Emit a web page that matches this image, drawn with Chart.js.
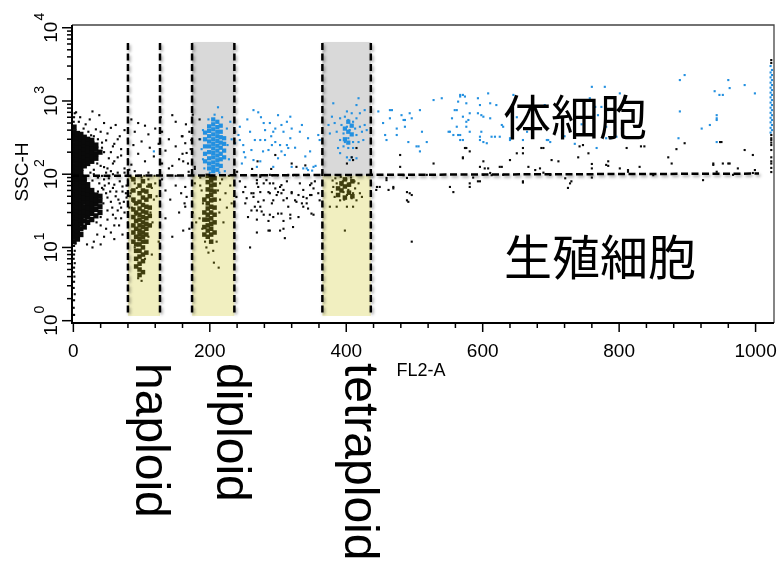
<!DOCTYPE html>
<html>
<head>
<meta charset="utf-8">
<title>FL2-A / SSC-H</title>
<script src="https://cdn.jsdelivr.net/npm/chart.js@4.4.1/dist/chart.umd.min.js"></script>
<style>
  body { margin: 0; background: #fff; }
  canvas { display: block; }
</style>
</head>
<body>
<canvas id="flow" width="780" height="570"></canvas>
<script>
// axis ticks
const xTickValues = [0, 200, 400, 600, 800, 1000];
const xMinorStep = 40;
const yExponents = [0, 1, 2, 3, 4];

// gates (FL2-A channel limits) and SSC-H levels
const gateNames = ['haploid', 'diploid', 'tetraploid'];
const gateFrom = [80, 174, 365];
const gateTo = [127, 236, 436];
const gateUpperShade = [false, true, true];
const gateTop = 6200;
const gateBottom = 1.27;
const shadeTop = 6400;
const shadeBottom = 1.16;
const splitLevel = 96;
const splitLine = [[-2, 95], [1005, 102]];

// dense cores: [FL2-A, [SSC-H values]]
const coreDebris = [
  [1, [12, 14, 16, 18, 20, 23, 26, 30, 34, 38, 43, 48, 55, 62, 70, 80, 90, 100, 115, 130, 150, 170, 195, 220, 250, 290, 330, 380, 440]],
  [6, [13, 15, 17, 19, 22, 25, 28, 32, 36, 41, 46, 52, 58, 66, 75, 85, 95, 108, 122, 140, 160, 185, 210, 240, 270, 310, 360]],
  [11, [15, 18, 21, 24, 27, 31, 35, 40, 45, 50, 57, 64, 72, 82, 92, 105, 120, 138, 158, 180, 205, 235, 265, 300, 350]],
  [16, [19, 23, 27, 31, 36, 42, 48, 55, 63, 70, 78, 88, 130, 150, 170, 195, 220, 250, 280, 320]],
  [21, [22, 26, 30, 35, 41, 47, 54, 62, 72, 140, 160, 185, 210, 240, 270, 300]],
  [27, [24, 29, 34, 40, 46, 53, 60, 150, 175, 200, 230, 260, 290]],
  [33, [27, 33, 39, 45, 52, 165, 190, 220, 250]],
  [39, [30, 36, 43, 50, 200]]
];

const coreBlack = [
  [88, [12, 16, 20, 26, 33, 45, 60, 85]],
  [92, [5.5, 7, 9, 11, 14, 18, 23, 30, 40]],
  [97, [4.2, 5, 6, 7.5, 9, 11, 13, 15, 17, 20, 24, 28, 34, 42, 55, 70]],
  [102, [4.6, 6.5, 8, 10, 12, 14, 16, 19, 22, 26, 31, 38, 48, 60, 80]],
  [107, [8.5, 12, 15, 18, 21, 25, 30, 36, 45, 58]],
  [112, [20, 27, 35, 50, 70]],
  [192, [15, 19, 24, 30, 45]],
  [197, [14, 17, 20, 24, 28, 34, 40, 50, 62, 78, 95]],
  [202, [12, 15, 18, 21, 25, 30, 36, 44, 52, 60, 70, 82, 92]],
  [207, [16, 22, 28, 35, 45, 58, 72, 88]],
  [388, [52, 64]], [393, [60, 75]], [398, [48, 68, 85]], [404, [56, 72]], [409, [50, 80]]
];

const coreBlue = [
  [193, [150, 190, 240, 300, 370]],
  [199, [120, 140, 165, 200, 240, 280, 330, 390, 450]],
  [205, [110, 125, 145, 170, 195, 225, 260, 300, 350, 410, 480, 560]],
  [211, [115, 135, 155, 180, 210, 245, 285, 330, 380, 440, 520]],
  [216, [130, 160, 190, 230, 270, 320, 380, 460]],
  [221, [170, 210, 260, 310]],
  [398, [300, 420]], [403, [270, 380, 520]], [408, [350, 460]]
];

// scattered events [FL2-A, SSC-H]
const blackPts = [
  [1, 1.2], [0.5, 1.5], [1, 1.9], [2, 2.3], [0.5, 2.8], [1, 3.4], [1.5, 4], [0.5, 4.6], [1, 5.3], [2, 6.1], [0.5, 7], [1, 8], [2, 9], [1, 10.5], [3, 11.3], [0.5, 520], [1, 600], [2, 680],
  [4, 700], [10, 600], [24, 560], [28, 720], [38, 640], [45, 500], [55, 430], [18, 480], [33, 410], [50, 360], [62, 470], [68, 330], [75, 400], [85, 560], [95, 500], [105, 460], [90, 380], [110, 350], [120, 420], [130, 380], [140, 300], [150, 520], [165, 480], [170, 380], [160, 330], [128, 600], [145, 640], [175, 650], [185, 560], [100, 280], [80, 300], [60, 260], [70, 220], [88, 250], [112, 230], [125, 260], [135, 210], [150, 240], [160, 190], [172, 220], [48, 290], [42, 230], [55, 200], [65, 170], [80, 160], [95, 190], [105, 150], [118, 175], [130, 140], [145, 130], [155, 160], [168, 140], [178, 118], [185, 300], [40, 130], [50, 120], [58, 140], [75, 120], [90, 110], [110, 105], [65, 105], [85, 135], [159, 330], [164, 265], [173, 293], [166, 195], [161, 150], [169, 108], [178, 126],
  [45, 85], [52, 75], [58, 65], [48, 55], [62, 50], [55, 42], [68, 40], [72, 58], [78, 48], [65, 32], [58, 28], [50, 24], [70, 25], [75, 30], [40, 20], [48, 18], [60, 20], [35, 15], [30, 12], [45, 14], [80, 22], [82, 35], [85, 60], [88, 42], [78, 70], [68, 80], [92, 28], [60, 13], [20, 11], [28, 10], [40, 11], [72, 15], [55, 16], [42, 95], [55, 110], [30, 100], [48, 105],
  [44, 62], [50, 48], [57, 35], [63, 58], [66, 45], [70, 35], [74, 42], [77, 55], [83, 50], [60, 72], [52, 88], [38, 75], [42, 65], [36, 58], [44, 40], [50, 32], [40, 26], [34, 22], [62, 25], [67, 20], [54, 58], [46, 70], [72, 68], [80, 85], [66, 95], [58, 100], [75, 105], [82, 115], [45, 125], [35, 140], [60, 150], [70, 180], [52, 165], [45, 200], [58, 240], [65, 300], [30, 330], [40, 380], [8, 520], [15, 420], [22, 380], [26, 340], [36, 300], [42, 270], [30, 115], [25, 105], [36, 90], [28, 82],
  [85, 90], [90, 75], [95, 95], [100, 90], [110, 85], [115, 65], [118, 45], [84, 55], [86, 35], [113, 30], [116, 22], [87, 20], [110, 14], [90, 10], [105, 7], [95, 3.8], [100, 3.5], [120, 75], [122, 50], [119, 95], [115, 8], [93, 65], [104, 95], [108, 68],
  [130, 85], [135, 60], [142, 45], [150, 70], [158, 55], [163, 40], [175, 30], [180, 22], [170, 18], [135, 25], [145, 14], [155, 30], [164, 67], [164, 36], [166, 49], [161, 17], [178, 75], [150, 95], [140, 120], [125, 12],
  [186, 90], [188, 60], [190, 40], [185, 25], [189, 18], [193, 12], [212, 60], [215, 45], [214, 30], [218, 85], [220, 22], [210, 12], [205, 9], [198, 8.5], [215, 75], [186, 70], [223, 55], [225, 35], [206, 6.2], [213, 5.3], [195, 10], [228, 95], [230, 70], [232, 40],
  [249, 57], [252, 40], [264, 49], [266, 36], [271, 67], [274, 57], [279, 75], [283, 83], [288, 55], [293, 44], [296, 64], [300, 57], [303, 67], [305, 55], [308, 61], [313, 47], [315, 36], [320, 57], [325, 44], [330, 52], [335, 40], [337, 61], [342, 47], [347, 52], [349, 75], [352, 64], [359, 55], [361, 44], [318, 28], [300, 29], [308, 23], [293, 26], [286, 23], [279, 28], [274, 36], [261, 32], [256, 26], [303, 17], [288, 17], [269, 16], [352, 28], [332, 75], [322, 97], [313, 80], [337, 36], [279, 44], [269, 83], [244, 80], [239, 49], [274, 92], [291, 97], [344, 34], [330, 26],
  [264, 97], [274, 97], [288, 98], [300, 97], [315, 98], [327, 97], [344, 98], [269, 75], [293, 75], [305, 71], [347, 71], [354, 80], [264, 55], [286, 57], [298, 52], [320, 55], [337, 49], [349, 52], [271, 42], [291, 40], [308, 44], [327, 42], [342, 40], [276, 31], [288, 28], [305, 29], [318, 25], [349, 29], [269, 24], [286, 17], [308, 18], [322, 19], [310, 13.4], [259, 10], [252, 67], [254, 47], [261, 55], [269, 32], [288, 75],
  [296, 183], [327, 126], [262, 118], [240, 108], [320, 140], [340, 132], [290, 118], [270, 150],
  [381, 67], [386, 75], [388, 64], [393, 71], [396, 57], [398, 67], [401, 52], [403, 61], [405, 75], [408, 47], [410, 55], [413, 64], [415, 44], [420, 55], [423, 49], [383, 49], [379, 57], [391, 44], [401, 36], [386, 36], [376, 36], [410, 36], [418, 75], [398, 17], [384, 88], [392, 92], [400, 85], [407, 90], [395, 80], [388, 52], [404, 70], [412, 80], [397, 45], [380, 82],
  [415, 228], [408, 170], [410, 156], [401, 140],
  [479, 183], [528, 140], [479, 126], [518, 98], [459, 89], [489, 89], [469, 67], [462, 61], [489, 57], [496, 52], [491, 42], [552, 67], [449, 67], [444, 61], [445, 67], [459, 83], [469, 64], [484, 97], [489, 44], [493, 55], [496, 12], [581, 67], [576, 228], [581, 205], [571, 170], [596, 126], [603, 120], [601, 98], [581, 75], [596, 80], [611, 104], [625, 126], [630, 98], [574, 228], [571, 165], [601, 150], [608, 120], [628, 126], [557, 57], [593, 80], [586, 90], [613, 97],
  [640, 156], [650, 193], [659, 193], [667, 126], [677, 114], [684, 120], [689, 228], [701, 156], [711, 150], [747, 250], [755, 193], [740, 170], [760, 138], [784, 150], [784, 130], [801, 120], [811, 228], [813, 114], [830, 126], [837, 240], [872, 170], [877, 140], [884, 220], [896, 265], [923, 83], [938, 140], [943, 108], [952, 140], [960, 140], [967, 98], [974, 120], [984, 214], [996, 183], [999, 114], [950, 275], [659, 80], [725, 65], [730, 80], [760, 90], [850, 97], [728, 75], [659, 77], [689, 105], [699, 98], [721, 88], [760, 120], [781, 134], [813, 108], [938, 134], [962, 140], [996, 104], [659, 228], [686, 228], [742, 240], [832, 240], [948, 275],
  [1023, 3620], [1023, 3300], [1023, 343], [1023, 310], [1023, 293], [1023, 270], [1023, 250], [1023, 214], [1023, 170], [1023, 150], [1023, 140], [1023, 122], [1023, 107]
];

const bluePts = [
  [188, 220], [186, 300], [190, 400], [192, 120], [198, 560], [207, 650], [212, 820], [218, 600], [225, 420], [226, 250], [228, 160], [222, 110], [232, 300], [230, 520], [200, 105], [214, 105], [190, 160], [118, 205],
  [264, 750], [271, 700], [244, 445], [242, 343], [259, 380], [279, 500], [281, 400], [288, 500], [296, 420], [293, 380], [305, 470], [313, 520], [318, 610], [320, 420], [308, 380], [332, 380], [344, 310], [318, 310], [274, 293], [281, 293], [266, 293], [244, 293], [249, 250], [261, 214], [286, 214], [291, 250], [296, 275], [303, 250], [313, 250], [305, 205], [300, 165], [310, 183], [315, 228], [278, 205], [274, 150], [264, 156], [252, 170], [247, 140], [269, 126], [293, 126], [320, 126], [347, 205], [337, 120], [344, 114], [352, 126], [359, 343], [361, 293], [237, 380], [237, 265], [255, 560], [300, 640], [275, 600], [335, 470], [290, 330], [325, 230], [250, 200], [340, 175], [342, 120], [350, 112], [355, 130],
  [381, 930], [418, 1090], [415, 880], [401, 720], [398, 610], [408, 680], [391, 580], [403, 550], [410, 520], [415, 580], [383, 500], [393, 470], [401, 445], [405, 400], [413, 420], [420, 445], [427, 470], [386, 380], [396, 360], [408, 343], [415, 343], [423, 380], [376, 360], [391, 293], [398, 275], [403, 310], [410, 275], [418, 275], [425, 293], [388, 228], [396, 240], [403, 228], [410, 228], [391, 194], [401, 170], [408, 170], [415, 165], [405, 156], [430, 400], [374, 470], [379, 610], [420, 680], [427, 750],
  [447, 720], [464, 580], [467, 750], [481, 640], [493, 680], [484, 550], [508, 750], [528, 1030], [540, 1090], [562, 750], [555, 580], [454, 500], [474, 420], [486, 445], [457, 343], [459, 293], [474, 343], [491, 275], [506, 240], [518, 275], [508, 205], [552, 380], [564, 343], [567, 1150], [574, 1150], [579, 550], [593, 1090], [596, 880], [593, 680], [601, 610], [598, 380], [596, 325], [608, 1270], [611, 580], [618, 325], [606, 265], [571, 293], [567, 343], [562, 445], [567, 1210], [571, 1210], [564, 980], [559, 750], [576, 930], [581, 680], [598, 640], [611, 930], [620, 880], [571, 610], [576, 520], [576, 445], [581, 380], [550, 380], [557, 343], [567, 293], [596, 293], [601, 275], [613, 325], [625, 325], [628, 470], [640, 293], [464, 750], [486, 550], [496, 580], [503, 240], [511, 380],
  [645, 1210], [630, 445], [659, 293], [640, 310], [691, 880], [694, 293], [699, 275], [696, 293], [760, 1560], [779, 1560], [801, 1270], [757, 1090], [774, 830], [784, 750], [765, 830], [769, 640], [781, 310], [767, 228], [796, 325], [787, 310], [804, 420], [781, 445], [887, 310], [889, 720], [889, 1930], [896, 2260], [921, 420], [933, 470], [943, 640], [943, 550], [943, 275], [940, 1360], [947, 1210], [952, 1210], [960, 1930], [962, 1500], [984, 1650], [999, 1270], [943, 580], [650, 600], [665, 380], [720, 330], [735, 260], [745, 480],
  [1022, 3000], [1024, 2650], [1022, 2450], [1024, 2260], [1022, 2100], [1024, 1930], [1022, 1780], [1024, 1650], [1022, 1520], [1024, 1410], [1022, 1300], [1024, 1210], [1022, 1120], [1024, 1030], [1022, 950], [1024, 880], [1022, 810], [1024, 750], [1022, 690], [1024, 640], [1022, 590], [1024, 550], [1022, 510], [1024, 470], [1022, 430], [1024, 400], [1022, 370]
];

const toPoints = list => list.map(([x, y]) => ({ x, y }));
const fromColumns = cols => cols.flatMap(([x, ys]) => ys.map(y => ({ x, y })));

const px = (chart, v) => chart.scales.x.getPixelForValue(v);
const py = (chart, v) => chart.scales.y.getPixelForValue(v);

const sansFont = '"Liberation Sans", Arial, Helvetica, sans-serif';

const gatesPlugin = {
  id: 'gates',
  beforeDatasetsDraw(chart) {
    const ctx = chart.ctx;
    ctx.save();
    ctx.fillStyle = '#d9d9d9';
    gateFrom.forEach((lo, i) => {
      if (!gateUpperShade[i]) return;
      const x0 = px(chart, lo), x1 = px(chart, gateTo[i]);
      const y0 = py(chart, shadeTop), y1 = py(chart, splitLevel);
      ctx.fillRect(x0, y0, x1 - x0, y1 - y0);
    });
    ctx.restore();
  },
  afterDatasetsDraw(chart) {
    const ctx = chart.ctx;
    ctx.save();
    // yellow gates lie over the events, so they tint them olive
    ctx.fillStyle = 'rgba(204, 198, 30, 0.28)';
    gateFrom.forEach((lo, i) => {
      const x0 = px(chart, lo), x1 = px(chart, gateTo[i]);
      const y0 = py(chart, splitLevel), y1 = py(chart, shadeBottom);
      ctx.fillRect(x0, y0, x1 - x0, y1 - y0);
    });

    ctx.strokeStyle = '#000';
    ctx.lineWidth = 2.5;
    ctx.setLineDash([7, 3.5]);
    ctx.shadowColor = 'rgba(0, 0, 0, 0.35)';
    ctx.shadowBlur = 3;
    ctx.shadowOffsetX = 1.5;
    ctx.shadowOffsetY = 2;
    gateFrom.forEach((lo, i) => {
      [lo, gateTo[i]].forEach(v => {
        const x = px(chart, v);
        ctx.beginPath();
        ctx.moveTo(x, py(chart, gateTop));
        ctx.lineTo(x, py(chart, gateBottom));
        ctx.stroke();
      });
    });
    ctx.beginPath();
    ctx.moveTo(px(chart, splitLine[0][0]), py(chart, splitLine[0][1]));
    ctx.lineTo(px(chart, splitLine[1][0]), py(chart, splitLine[1][1]));
    ctx.stroke();
    ctx.restore();
  },
  afterDraw(chart) {
    const ctx = chart.ctx;
    const { left, right, top, bottom } = chart.chartArea;
    ctx.save();

    // frame
    ctx.strokeStyle = '#444';
    ctx.lineWidth = 1.3;
    ctx.beginPath();
    ctx.moveTo(left, top);
    ctx.lineTo(right, top);
    ctx.lineTo(right, bottom);
    ctx.stroke();
    ctx.strokeStyle = '#000';
    ctx.lineWidth = 2;
    ctx.beginPath();
    ctx.moveTo(left, top);
    ctx.lineTo(left, bottom);
    ctx.lineTo(right, bottom);
    ctx.stroke();

    // x ticks
    ctx.lineWidth = 1.5;
    for (let v = 0; v <= 1000; v += xMinorStep) {
      const x = px(chart, v);
      const len = xTickValues.includes(v) ? 9 : 5;
      ctx.beginPath();
      ctx.moveTo(x, bottom);
      ctx.lineTo(x, bottom + len);
      ctx.stroke();
    }
    // y ticks, log decades
    yExponents.forEach(e => {
      const base = Math.pow(10, e);
      let y = py(chart, base);
      ctx.beginPath();
      ctx.moveTo(left, y);
      ctx.lineTo(left - 10, y);
      ctx.stroke();
      if (e < 4) {
        for (let m = 2; m <= 9; m++) {
          y = py(chart, m * base);
          ctx.beginPath();
          ctx.moveTo(left, y);
          ctx.lineTo(left - 5, y);
          ctx.stroke();
        }
      }
    });

    ctx.fillStyle = '#000';
    // x tick labels
    ctx.font = '19px ' + sansFont;
    ctx.textAlign = 'center';
    ctx.textBaseline = 'alphabetic';
    xTickValues.forEach(v => ctx.fillText(String(v), px(chart, v), 357));

    // y tick labels 10^n, rotated
    yExponents.forEach(e => {
      const y = py(chart, Math.pow(10, e));
      ctx.save();
      ctx.translate(57, y);
      ctx.rotate(-Math.PI / 2);
      ctx.textAlign = 'left';
      ctx.font = '19px ' + sansFont;
      const w10 = ctx.measureText('10').width;
      ctx.font = '14px ' + sansFont;
      const wSup = ctx.measureText(String(e)).width;
      const start = -(w10 + 1 + wSup) / 2;
      ctx.font = '19px ' + sansFont;
      ctx.fillText('10', start, 0);
      ctx.font = '14px ' + sansFont;
      ctx.fillText(String(e), start + w10 + 1, -13);
      ctx.restore();
    });

    // axis titles
    ctx.font = '18px ' + sansFont;
    ctx.textAlign = 'center';
    ctx.fillText('FL2-A', 421, 376);
    ctx.save();
    ctx.translate(28, 172);
    ctx.rotate(-Math.PI / 2);
    ctx.font = '19px ' + sansFont;
    ctx.fillText('SSC-H', 0, 0);
    ctx.restore();

    // region labels
    ctx.font = '48px "Noto Sans CJK JP", sans-serif';
    ctx.textAlign = 'left';
    ctx.textBaseline = 'middle';
    ctx.fillText('体細胞', 503, 117);
    ctx.fillText('生殖細胞', 504, 257);

    // gate names, rotated below the axis
    const nameBase = [136, 217, 345];
    ctx.font = '48px ' + sansFont;
    ctx.textBaseline = 'alphabetic';
    gateNames.forEach((name, i) => {
      ctx.save();
      ctx.translate(nameBase[i], 363);
      ctx.rotate(Math.PI / 2);
      ctx.fillText(name, 0, 0);
      ctx.restore();
    });
    ctx.restore();
  }
};

const black = '#0a0a0a';
const blue = '#2390e0';

new Chart(document.getElementById('flow'), {
  type: 'scatter',
  data: {
    datasets: [
      { data: fromColumns(coreDebris), backgroundColor: black, pointStyle: 'rect', pointRadius: 3.7, borderWidth: 0 },
      { data: fromColumns(coreBlack), backgroundColor: black, pointStyle: 'rect', pointRadius: 3.2, borderWidth: 0 },
      { data: toPoints(blackPts), backgroundColor: black, pointStyle: 'rect', pointRadius: 1.5, borderWidth: 0 },
      { data: fromColumns(coreBlue), backgroundColor: blue, pointStyle: 'rect', pointRadius: 3.0, borderWidth: 0 },
      { data: toPoints(bluePts), backgroundColor: blue, pointStyle: 'rect', pointRadius: 1.5, borderWidth: 0 }
    ]
  },
  options: {
    responsive: false,
    devicePixelRatio: 1,
    animation: false,
    events: [],
    layout: { padding: { left: 72, top: 25, right: 6, bottom: 247 } },
    plugins: { legend: { display: false }, tooltip: { enabled: false } },
    scales: {
      x: { type: 'linear', min: -2, max: 1027, display: false },
      y: { type: 'logarithmic', min: 0.93, max: 10900, display: false }
    }
  },
  plugins: [gatesPlugin]
});
</script>
</body>
</html>
